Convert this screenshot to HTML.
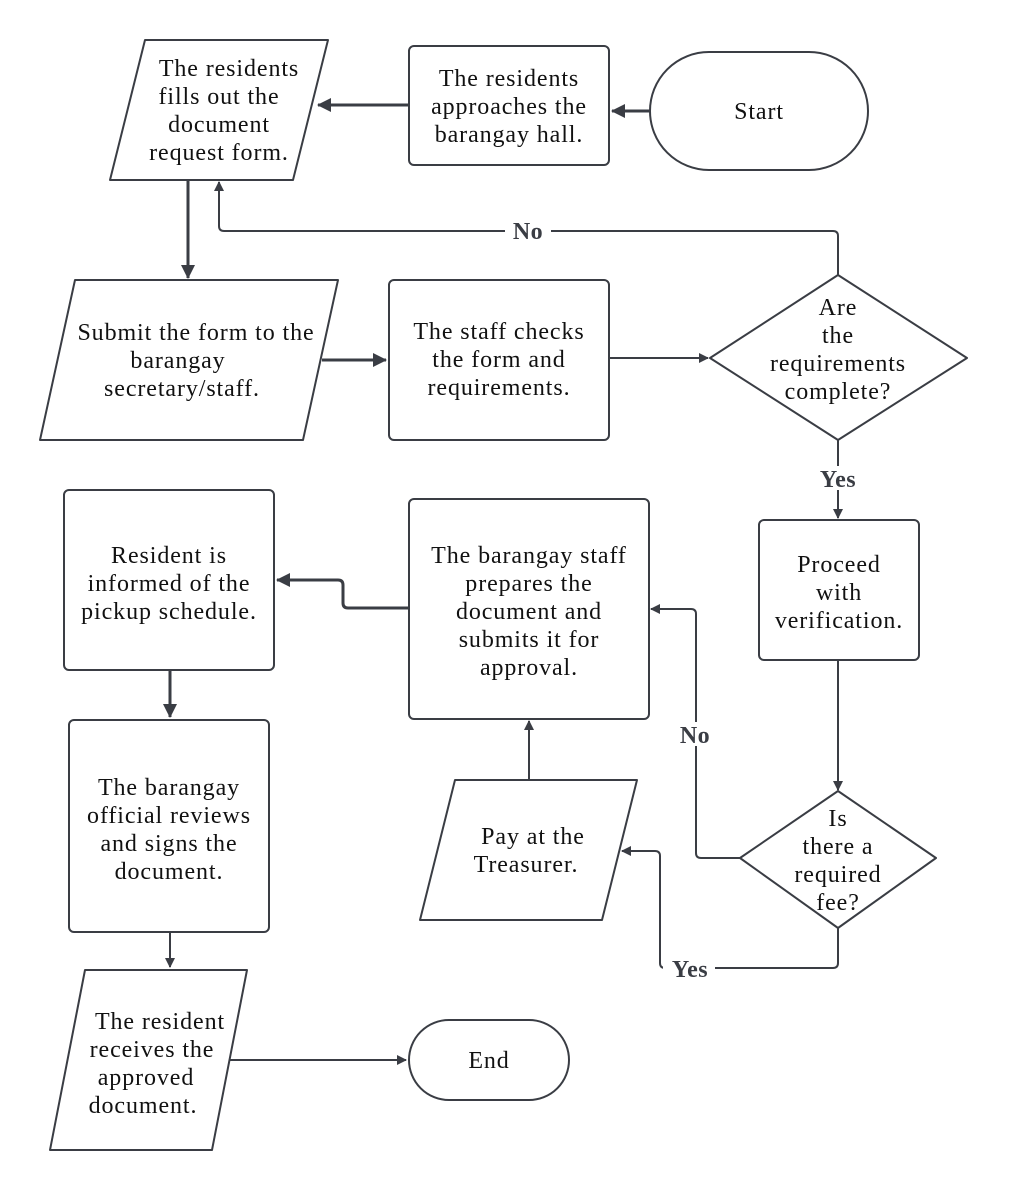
<!DOCTYPE html>
<html><head><meta charset="utf-8"><style>
html,body{margin:0;padding:0;background:#fff;}
svg{display:block;}
text{font-family:"Liberation Serif",serif;font-size:24px;letter-spacing:0.9px;fill:#111;text-anchor:middle;}
.b{font-weight:bold;fill:#3a3d44;letter-spacing:0.5px;}
.s{fill:#fff;stroke:#3a3d44;stroke-width:2;stroke-linejoin:round;}
.l{fill:none;stroke:#3a3d44;stroke-width:2;}
.t{fill:none;stroke:#3a3d44;stroke-width:3;}
</style></head><body>
<svg width="1009" height="1190" viewBox="0 0 1009 1190" xmlns="http://www.w3.org/2000/svg">
<defs>
<marker id="a" markerWidth="10" markerHeight="10" refX="9" refY="5" orient="auto" markerUnits="userSpaceOnUse" viewBox="0 0 10 10">
<path d="M0,0 L10,5 L0,10 z" fill="#3a3d44"/></marker>
<marker id="A" markerWidth="14" markerHeight="14" refX="13" refY="7" orient="auto" markerUnits="userSpaceOnUse" viewBox="0 0 14 14">
<path d="M0,0 L14,7 L0,14 z" fill="#3a3d44"/></marker>
</defs>
<path class="t" d="M409,105 L318,105" marker-end="url(#A)"/>
<path class="t" d="M650,111 L612,111" marker-end="url(#A)"/>
<path class="t" d="M188,180 L188,278" marker-end="url(#A)"/>
<path class="l" d="M838,275 L838,236 Q838,231 833,231 L224,231 Q219,231 219,226 L219,182" marker-end="url(#a)"/>
<path class="t" d="M322,360 L386,360" marker-end="url(#A)"/>
<path class="l" d="M609,358 L708,358" marker-end="url(#a)"/>
<path class="l" d="M838,440 L838,518" marker-end="url(#a)"/>
<path class="l" d="M838,660 L838,790" marker-end="url(#a)"/>
<path class="l" d="M740,858 L701,858 Q696,858 696,853 L696,614 Q696,609 691,609 L651,609" marker-end="url(#a)"/>
<path class="l" d="M838,928 L838,963 Q838,968 833,968 L665,968 Q660,968 660,963 L660,856 Q660,851 655,851 L622,851" marker-end="url(#a)"/>
<path class="l" d="M529,780 L529,721" marker-end="url(#a)"/>
<path class="t" d="M409,608 L348,608 Q343,608 343,603 L343,585 Q343,580 338,580 L277,580" marker-end="url(#A)"/>
<path class="t" d="M170,670 L170,717" marker-end="url(#A)"/>
<path class="l" d="M170,932 L170,967" marker-end="url(#a)"/>
<path class="l" d="M230,1060 L406,1060" marker-end="url(#a)"/>
<rect x="505" y="220" width="46" height="22" fill="#fff"/><text x="528" y="239" class="b">No</text>
<rect x="810" y="466" width="56" height="24" fill="#fff"/><text x="838" y="487" class="b">Yes</text>
<rect x="672" y="722" width="46" height="24" fill="#fff"/><text x="695" y="743" class="b">No</text>
<rect x="663" y="957" width="52" height="24" fill="#fff"/><text x="690" y="977" class="b">Yes</text>
<path class="s" d="M145,40 L328,40 L293,180 L110,180 Z"/>
<text x="229" y="76">The residents</text><text x="219" y="104">fills out the</text><text x="219" y="132">document</text><text x="219" y="160">request form.</text>
<rect class="s" x="409" y="46" width="200" height="119" rx="5"/>
<text x="509" y="86">The residents</text><text x="509" y="114">approaches the</text><text x="509" y="142">barangay hall.</text>
<rect class="s" x="650" y="52" width="218" height="118" rx="59"/>
<text x="759" y="119">Start</text>
<path class="s" d="M75,280 L338,280 L303,440 L40,440 Z"/>
<text x="196" y="340">Submit the form to the</text><text x="178" y="368">barangay</text><text x="182" y="396">secretary/staff.</text>
<rect class="s" x="389" y="280" width="220" height="160" rx="5"/>
<text x="499" y="339">The staff checks</text><text x="499" y="367">the form and</text><text x="499" y="395">requirements.</text>
<path class="s" d="M838,275 L967,358 L838,440 L710,358 Z"/>
<text x="838" y="315">Are</text><text x="838" y="343">the</text><text x="838" y="371">requirements</text><text x="838" y="399">complete?</text>
<rect class="s" x="759" y="520" width="160" height="140" rx="5"/>
<text x="839" y="572">Proceed</text><text x="839" y="600">with</text><text x="839" y="628">verification.</text>
<path class="s" d="M838,791 L936,858 L838,928 L740,858 Z"/>
<text x="838" y="826">Is</text><text x="838" y="854">there a</text><text x="838" y="882">required</text><text x="838" y="910">fee?</text>
<rect class="s" x="409" y="499" width="240" height="220" rx="5"/>
<text x="529" y="563">The barangay staff</text><text x="529" y="591">prepares the</text><text x="529" y="619">document and</text><text x="529" y="647">submits it for</text><text x="529" y="675">approval.</text>
<path class="s" d="M455,780 L637,780 L602,920 L420,920 Z"/>
<text x="533" y="844">Pay at the</text><text x="526" y="872">Treasurer.</text>
<rect class="s" x="64" y="490" width="210" height="180" rx="5"/>
<text x="169" y="563">Resident is</text><text x="169" y="591">informed of the</text><text x="169" y="619">pickup schedule.</text>
<rect class="s" x="69" y="720" width="200" height="212" rx="5"/>
<text x="169" y="795">The barangay</text><text x="169" y="823">official reviews</text><text x="169" y="851">and signs the</text><text x="169" y="879">document.</text>
<path class="s" d="M85,970 L247,970 L212,1150 L50,1150 Z"/>
<text x="160" y="1029">The resident</text><text x="152" y="1057">receives the</text><text x="146" y="1085">approved</text><text x="143" y="1113">document.</text>
<rect class="s" x="409" y="1020" width="160" height="80" rx="40"/>
<text x="489" y="1068">End</text>
</svg>
</body></html>
